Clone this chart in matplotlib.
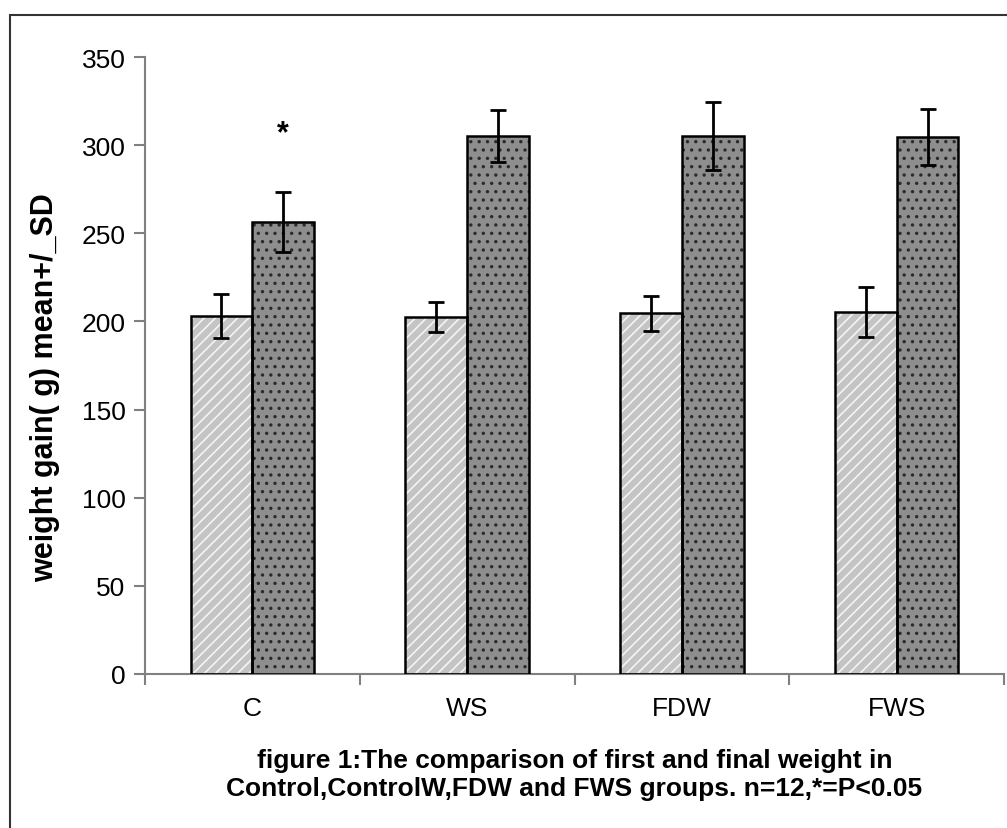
import numpy as np
import matplotlib.pyplot as plt
from matplotlib.patches import Rectangle

groups = ['C', 'WS', 'FDW', 'FWS']
first_weight = [203, 202.5, 204.5, 205.5]
first_sd = [12.5, 8.5, 10.2, 14.2]
final_weight = [256.5, 305.3, 305.3, 304.6]
final_sd = [17, 14.7, 19.2, 16]
star_group = 'C'

plt.rcParams['font.family'] = ['Liberation Sans', 'DejaVu Sans']
plt.rcParams['hatch.linewidth'] = 1.2

fig = plt.figure(figsize=(10.07, 8.29), dpi=100)
ax = fig.add_axes([145 / 1007, 1 - 675 / 829, (1004 - 145) / 1007, (675 - 58) / 829])

# outer frame (left and top edges visible)
fig.patches.append(Rectangle((10 / 1007, -0.1), 1.2, 1 - 16 / 829 + 0.1,
                             transform=fig.transFigure, fill=False,
                             edgecolor='#333333', linewidth=1.5))

x = np.arange(len(groups))
w = 0.288

# fills with hatching (hatch colour follows edgecolor)
ax.bar(x - w / 2, first_weight, w, color='#c4c4c4', edgecolor='#f4f4f4',
       hatch='///', linewidth=0, zorder=2)
ax.bar(x + w / 2, final_weight, w, color='#8e8e8e', edgecolor='#2a2a2a',
       hatch='..', linewidth=0, zorder=2)
# outlines
ax.bar(x - w / 2, first_weight, w, fill=False, edgecolor='black', linewidth=1.8, zorder=3)
ax.bar(x + w / 2, final_weight, w, fill=False, edgecolor='black', linewidth=1.8, zorder=3)

ax.errorbar(x - w / 2, first_weight, yerr=first_sd, fmt='none', ecolor='black',
            elinewidth=2, capsize=5.5, capthick=2, zorder=4)
ax.errorbar(x + w / 2, final_weight, yerr=final_sd, fmt='none', ecolor='black',
            elinewidth=2, capsize=5.5, capthick=2, zorder=4)

i = groups.index(star_group)
ax.text(i + w / 2, final_weight[i] + final_sd[i] + 33, '*', ha='center', va='center',
        fontsize=22, fontweight='bold')

ax.set_xlim(-0.5, len(groups) - 0.5)
ax.set_ylim(0, 350)
ax.set_yticks(np.arange(0, 351, 50))
ax.set_xticks(np.arange(len(groups) + 1) - 0.5)
ax.set_xticklabels([])
ax.set_xticks(x, minor=True)
ax.set_xticklabels(groups, minor=True)
ax.tick_params(axis='x', which='major', direction='out', length=8, width=1.5, color='#808080')
ax.tick_params(axis='x', which='minor', length=0, pad=16, labelsize=19)
ax.tick_params(axis='y', direction='out', length=8, width=1.5, color='#808080',
               labelsize=19, pad=6)

for s in ['top', 'right']:
    ax.spines[s].set_visible(False)
for s in ['left', 'bottom']:
    ax.spines[s].set_color('#808080')
    ax.spines[s].set_linewidth(1.5)

ax.set_ylabel('weight gain( g) mean+/_SD', fontsize=22, fontweight='bold')
ax.yaxis.set_label_coords(-0.099, 0.465)
ax.set_xlabel('figure 1:The comparison of first and final weight in\n'
              'Control,ControlW,FDW and FWS groups. n=12,*=P<0.05',
              fontsize=19, fontweight='bold', linespacing=1.2, labelpad=20)

fig.savefig('out.png', dpi=100)
